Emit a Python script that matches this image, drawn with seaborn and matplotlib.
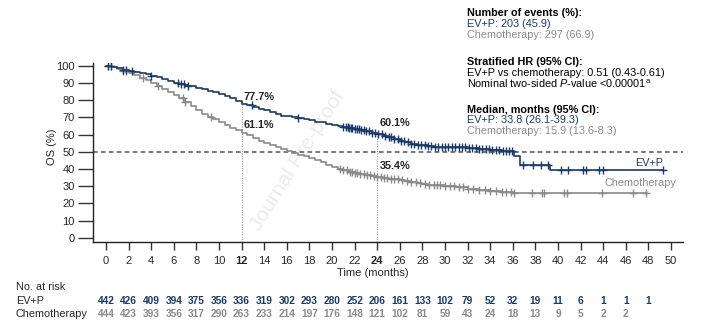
import numpy as np
import pandas as pd
import matplotlib
matplotlib.use("Agg")
import matplotlib.pyplot as plt
import matplotlib.transforms as mtransforms
import seaborn as sns

# ---------------- data ----------------
evp_time = [0, 0.5, 1, 1.5, 2, 2.5, 3, 3.5, 4, 4.5, 5, 5.5, 6, 6.5, 7, 7.5, 8, 8.5, 9, 9.5,
            10, 10.5, 11, 11.5, 12, 12.5, 13, 13.5, 14, 14.5, 15, 15.5, 16, 16.5, 17, 17.5,
            18, 18.5, 19, 19.5, 20, 20.5, 21, 21.5, 22, 22.5, 23, 23.5, 24, 24.5, 25, 25.5,
            26, 26.5, 27, 27.5, 28, 28.5, 29, 30, 31, 32, 33, 34, 35, 36.1, 36.6, 39.3, 49.3]
evp_surv = [100, 99.5, 98.5, 97.5, 97, 96.5, 95.5, 95, 94, 93.5, 92.5, 91, 90, 89.5, 88.5, 88,
            87, 86.5, 85.5, 84.5, 83.5, 82.5, 81, 79.5, 77.7, 77, 76, 75, 74, 73, 72, 71, 70.5,
            70, 69.8, 69, 68.2, 67.5, 67, 66.2, 65.5, 64.8, 64.2, 63.8, 63, 62.5, 61.8, 61,
            60.1, 59.2, 58.3, 57.5, 56.5, 55.5, 54.7, 54, 53.7, 53.3, 53, 52.8, 52.5, 52.2,
            51.5, 50.8, 50.5, 47.5, 42.2, 39.4, 39.4]
evp_censor = [0.2, 0.4, 1.5, 1.8, 2.3, 4.0, 6.4, 6.6, 6.9, 7.3, 12.9, 17.0, 21.0, 21.2, 21.4,
              21.5, 21.7, 21.8, 22.0, 22.2, 22.4, 22.6, 22.8, 23.0, 23.3, 23.5, 23.8, 24.1,
              24.4, 24.7, 25.0, 25.2, 25.5, 25.8, 26.1, 26.4, 26.7, 27.0, 27.3, 27.6, 27.9,
              28.2, 28.5, 28.8, 29.1, 29.4, 29.7, 30.0, 30.3, 30.6, 30.9, 31.2, 31.5, 31.8,
              32.1, 32.4, 32.7, 33.0, 33.3, 33.6, 33.9, 34.2, 34.5, 34.8, 35.1, 35.4, 35.7,
              35.9, 36.9, 37.8, 38.5, 39.1, 40.3, 40.9, 42.2, 42.5, 43.6, 44.0, 49.3]

chemo_time = [0, 0.5, 1, 1.5, 2, 2.5, 3, 3.5, 4, 4.5, 5, 5.5, 6, 6.5, 7, 7.5, 8, 8.5, 9, 9.5,
              10, 10.5, 11, 11.5, 12, 12.5, 13, 13.5, 14, 14.5, 15, 15.5, 16, 16.5, 17, 17.5,
              18, 18.5, 19, 19.5, 20, 20.5, 21, 21.5, 22, 22.5, 23, 23.5, 24, 24.5, 25, 25.5,
              26, 26.5, 27, 27.5, 28, 28.5, 29, 30, 31, 32, 33, 34, 35, 36, 37, 47.9]
chemo_surv = [100, 99, 98, 97, 96, 94.5, 93, 91.5, 90, 88.3, 86.5, 85, 83, 81, 79, 76.5, 74.2,
              72, 70.3, 68.8, 67.3, 65.5, 64, 62.5, 61.1, 59.5, 58, 56.5, 55.2, 54, 53, 51.5,
              50.3, 49, 48.2, 47.3, 46.5, 45.3, 43.8, 42.5, 41.3, 40.2, 39.2, 38.3, 37.6, 37,
              36.5, 36, 35.4, 34.8, 34.3, 33.9, 33.5, 33, 32.5, 32, 31.3, 30.8, 30.4, 29.8,
              29.2, 28.6, 27.8, 27.2, 26.7, 26.2, 25.8, 25.8]
chemo_censor = [0.2, 0.4, 1.5, 1.8, 3.3, 4.6, 6.8, 7.0, 9.3, 20.7, 21.0, 21.3, 21.6, 21.8, 22.0,
                22.2, 22.5, 22.8, 23.1, 23.4, 23.7, 24.0, 24.3, 24.6, 24.9, 25.2, 25.5, 25.8,
                26.2, 26.6, 27.0, 27.4, 27.8, 28.2, 28.6, 29.0, 29.3, 29.6, 30.0, 30.4, 30.8,
                31.2, 31.6, 32.0, 32.5, 33.0, 33.5, 34.0, 34.5, 35.0, 35.4, 35.8, 36.1, 37.7,
                38.6, 38.8, 40.5, 40.8, 43.9, 46.6, 47.8]

risk_times_evp = list(range(0, 50, 2))
risk_evp = [442, 426, 409, 394, 375, 356, 336, 319, 302, 293, 280, 252, 206, 161, 133, 102,
            79, 52, 32, 19, 11, 6, 1, 1, 1]
risk_times_chemo = list(range(0, 48, 2))
risk_chemo = [444, 423, 393, 356, 317, 290, 263, 233, 214, 197, 176, 148, 121, 102, 81, 59,
              43, 24, 18, 13, 9, 5, 2, 2]

xticks = list(range(0, 51, 2))
yticks = list(range(0, 101, 10))
landmarks = [12, 24]
landmark_evp = [77.7, 60.1]
landmark_chemo = [61.1, 35.4]

NAVY = "#1c3a66"
GRAY = "#8a8a8a"
FS = 7.8

# ---------------- style ----------------
sns.set_theme(style="ticks")
plt.rcParams['font.family'] = ['Liberation Sans', 'DejaVu Sans']
plt.rcParams['mathtext.fontset'] = 'custom'
plt.rcParams['mathtext.rm'] = 'Liberation Sans'
plt.rcParams['mathtext.it'] = 'Liberation Sans:italic'
plt.rcParams['mathtext.bf'] = 'Liberation Sans:bold'

fig = plt.figure(figsize=(7.09, 3.27), dpi=100)
ax = fig.add_axes([93 / 709, 1 - 242 / 327, (683 - 93) / 709, (242 - 63) / 327])
ax.set_xlim(-1.15, 51.06)
ax.set_ylim(-2.5, 101.6)


def step_value(times, surv, c):
    i = np.searchsorted(np.asarray(times), c, side='right') - 1
    return np.asarray(surv)[max(i, 0)]


# watermark
ax.text(17.0, 45, "Journal Pre-proof", rotation=58, fontsize=15,
        color="#ebebeb", ha="center", va="center", zorder=0)

# reference lines
ax.axhline(50, color="#555555", lw=1.1, ls=(0, (3, 2.2)), zorder=1)
for lm, v in zip(landmarks, landmark_evp):
    ax.plot([lm, lm], [-2.5, v], color="#9a9a9a", lw=0.8, ls=(0, (1, 1.2)), zorder=1)

# curves
for times, surv, cens, col in [(chemo_time, chemo_surv, chemo_censor, GRAY),
                               (evp_time, evp_surv, evp_censor, NAVY)]:
    df = pd.DataFrame({"t": times, "s": surv})
    sns.lineplot(data=df, x="t", y="s", drawstyle="steps-post", color=col, lw=1.2,
                 estimator=None, ax=ax, zorder=3)
    cy = [step_value(times, surv, c) for c in cens]
    dfc = pd.DataFrame({"t": cens, "s": cy})
    sns.scatterplot(data=dfc, x="t", y="s", marker="+", s=38, linewidth=1.0,
                    color=col, ax=ax, zorder=4)

# landmark labels
ax.text(12.2, 82, "77.7%", fontsize=FS, fontweight="bold", va="center", ha="left")
ax.text(12.2, 65.5, "61.1%", fontsize=FS, fontweight="bold", va="center", ha="left")
ax.text(24.2, 66.5, "60.1%", fontsize=FS, fontweight="bold", va="center", ha="left")
ax.text(24.2, 41.7, "35.4%", fontsize=FS, fontweight="bold", va="center", ha="left")

# curve labels
ax.text(48.1, 43.4, "EV+P", fontsize=FS, color=NAVY, ha="center", va="center")
ax.text(47.3, 31.8, "Chemotherapy", fontsize=FS, color=GRAY, ha="center", va="center")

# axes styling
sns.despine(ax=ax)
ax.set_xticks(xticks)
ax.set_yticks(yticks)
ax.tick_params(axis="x", length=6, width=1, pad=4, labelsize=8, color="#333333")
ax.tick_params(axis="y", length=11, width=1, pad=2, labelsize=8, color="#333333")
for lab in ax.get_xticklabels():
    if lab.get_text() in ("12", "24"):
        lab.set_fontweight("bold")
for sp in ("left", "bottom"):
    ax.spines[sp].set_linewidth(1.0)
    ax.spines[sp].set_color("#222222")
ax.set_xlabel("")
ax.set_ylabel("")
fig.text(52 / 709, 1 - 147 / 327, "OS (%)", rotation=90, fontsize=8, ha="center", va="center")
fig.text(373 / 709, 1 - 273 / 327, "Time (months)", fontsize=8, ha="center", va="center")

# info block
lines = [
    (13, "Number of events (%):", "black", "bold"),
    (24, "EV+P: 203 (45.9)", NAVY, "normal"),
    (35, "Chemotherapy: 297 (66.9)", GRAY, "normal"),
    (62, "Stratified HR (95% CI):", "black", "bold"),
    (73, "EV+P vs chemotherapy: 0.51 (0.43-0.61)", "black", "normal"),
    (84, "Nominal two-sided $\\it{P}$-value <0.00001$^{\\mathrm{a}}$", "black", "normal"),
    (110, "Median, months (95% CI):", "black", "bold"),
    (120, "EV+P: 33.8 (26.1-39.3)", NAVY, "normal"),
    (131, "Chemotherapy: 15.9 (13.6-8.3)", GRAY, "normal"),
]
for y, s, c, w in lines:
    fig.text(467 / 709, 1 - y / 327, s, fontsize=FS, color=c, fontweight=w,
             ha="left", va="center")

# risk table
fig.text(16 / 709, 1 - 287 / 327, "No. at risk", fontsize=FS, ha="left", va="center")
fig.text(16 / 709, 1 - 301 / 327, "EV+P", fontsize=FS, ha="left", va="center")
fig.text(16 / 709, 1 - 314 / 327, "Chemotherapy", fontsize=FS, ha="left", va="center")
trans = mtransforms.blended_transform_factory(ax.transData, fig.transFigure)
for t, n in zip(risk_times_evp, risk_evp):
    ax.text(t, 1 - 301 / 327, str(n), transform=trans, fontsize=7.3, fontweight="bold",
            color=NAVY, ha="center", va="center", clip_on=False)
for t, n in zip(risk_times_chemo, risk_chemo):
    ax.text(t, 1 - 314 / 327, str(n), transform=trans, fontsize=7.3, fontweight="bold",
            color=GRAY, ha="center", va="center", clip_on=False)

fig.savefig("out.png", dpi=100)
